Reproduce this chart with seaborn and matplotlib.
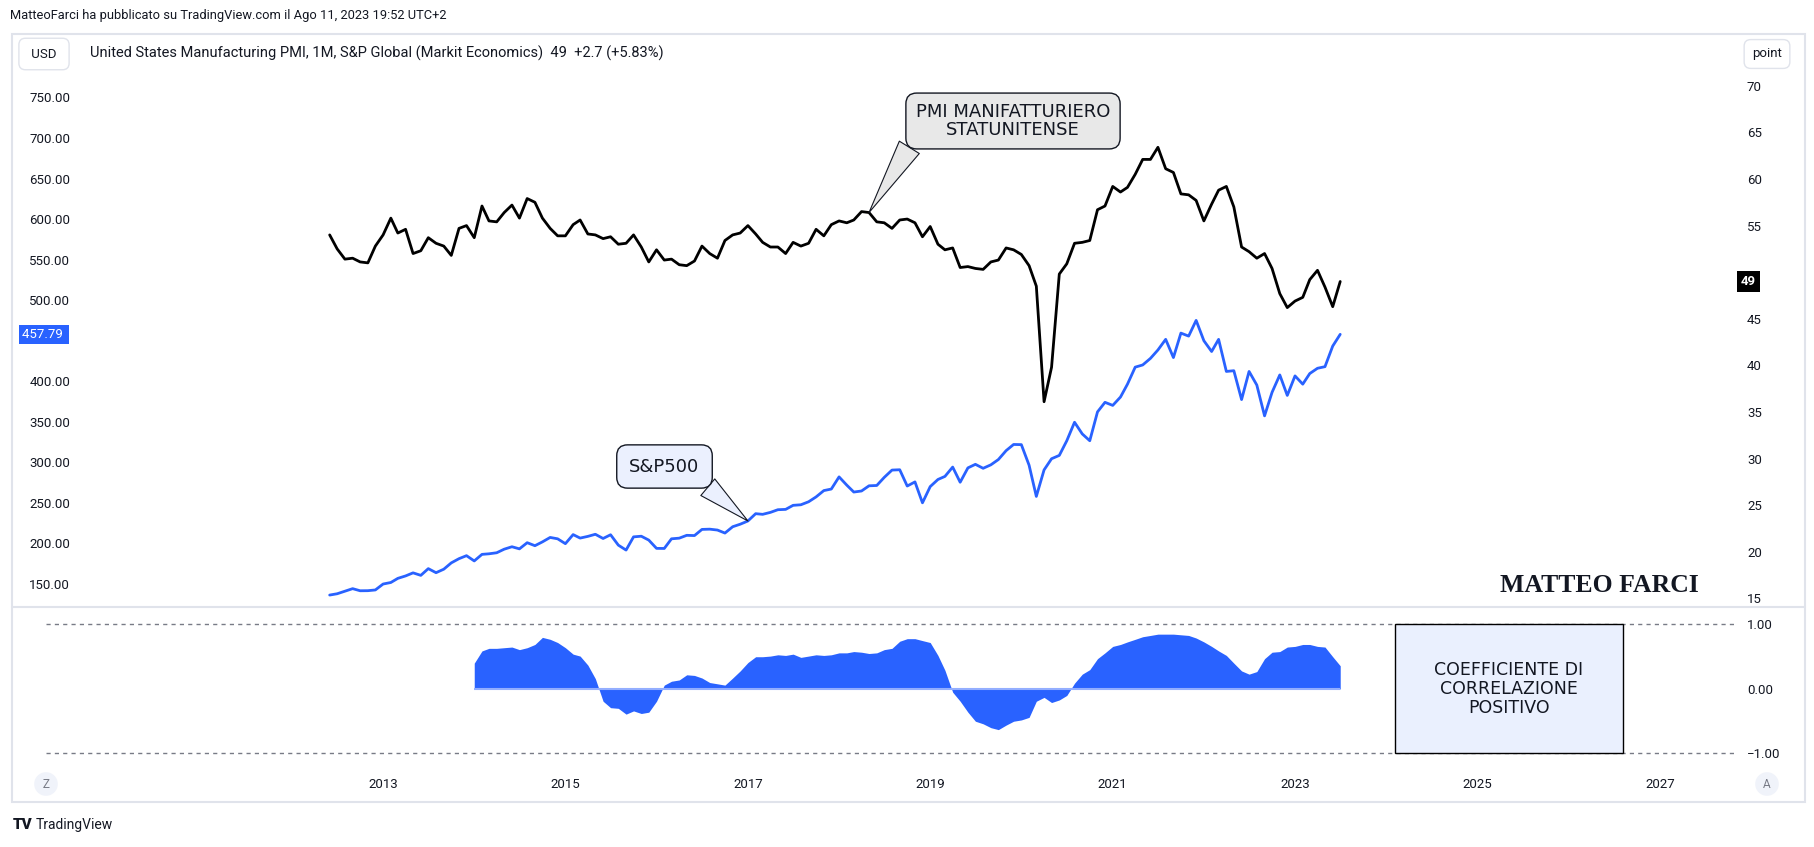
import numpy as np
import pandas as pd
import matplotlib
matplotlib.use("Agg")
import matplotlib.pyplot as plt
import matplotlib.dates as mdates
from matplotlib.patches import Rectangle
from matplotlib.lines import Line2D
from matplotlib.transforms import blended_transform_factory
import seaborn as sns

sns.set_style("white")
plt.rcParams['font.family'] = ['Roboto', 'DejaVu Sans']

# dati mensili, giugno 2012 - luglio 2023
months = pd.date_range("2012-06-01", periods=134, freq="MS")

pmi = [
    54.0, 52.5, 51.4, 51.5, 51.1, 51.0, 52.8,
    54.0, 55.8, 54.2, 54.6, 52.0, 52.3, 53.7, 53.1, 52.8, 51.8, 54.7, 55.0,
    53.7, 57.1, 55.5, 55.4, 56.4, 57.2, 55.8, 57.9, 57.5, 55.8, 54.7, 53.9,
    53.9, 55.1, 55.6, 54.1, 54.0, 53.6, 53.8, 53.0, 53.1, 54.0, 52.7, 51.1,
    52.4, 51.3, 51.4, 50.8, 50.7, 51.2, 52.8, 52.0, 51.5, 53.4, 54.0, 54.2,
    55.0, 54.1, 53.2, 52.7, 52.7, 52.0, 53.2, 52.8, 53.1, 54.6, 53.9, 55.1,
    55.5, 55.3, 55.6, 56.5, 56.4, 55.4, 55.3, 54.7, 55.6, 55.7, 55.3, 53.8,
    54.9, 53.0, 52.4, 52.6, 50.5, 50.6, 50.4, 50.3, 51.1, 51.3, 52.6, 52.4,
    51.9, 50.7, 48.5, 36.1, 39.8, 49.8, 50.9, 53.1, 53.2, 53.4, 56.7, 57.1,
    59.2, 58.6, 59.1, 60.5, 62.1, 62.1, 63.4, 61.1, 60.7, 58.4, 58.3, 57.7,
    55.5, 57.3, 58.8, 59.2, 57.0, 52.7, 52.2, 51.5, 52.0, 50.4, 47.7, 46.2,
    46.9, 47.3, 49.2, 50.2, 48.4, 46.3, 49.0,
]

spx = [
    136.1, 137.7, 140.8, 144.0, 141.4, 141.5, 142.4,
    149.7, 151.6, 156.7, 159.7, 163.5, 160.4, 168.7, 163.7, 168.0, 175.8, 181.0, 184.7,
    178.2, 186.3, 187.0, 188.3, 192.7, 195.7, 193.1, 200.7, 197.0, 201.7, 207.2, 205.5,
    199.5, 210.7, 206.4, 208.5, 211.1, 205.9, 210.5, 197.7, 191.6, 207.9, 208.7, 203.9,
    193.7, 193.6, 205.5, 206.3, 209.8, 209.5, 217.1, 217.4, 216.3, 212.6, 220.4, 223.5,
    227.5, 236.5, 235.7, 238.1, 241.4, 241.8, 246.8, 247.5, 251.2, 257.2, 265.0, 266.9,
    281.9, 271.7, 263.2, 264.5, 270.9, 271.3, 281.3, 290.3, 290.7, 270.6, 275.7, 249.9,
    269.9, 278.7, 282.5, 294.0, 275.3, 293.0, 297.4, 292.5, 296.8, 303.3, 314.3, 321.9,
    321.7, 296.3, 257.8, 290.5, 304.3, 308.4, 326.5, 349.3, 334.9, 326.5, 362.1, 373.9,
    370.1, 380.4, 396.3, 417.3, 420.0, 428.1, 438.5, 451.6, 429.1, 459.3, 455.6, 475.0,
    449.9, 436.6, 451.6, 412.0, 412.9, 377.3, 412.0, 395.2, 357.2, 386.2, 407.7, 382.4,
    406.5, 396.3, 409.4, 415.9, 417.9, 443.3, 457.79,
]

# coefficiente di correlazione, gennaio 2014 - luglio 2023
corr_months = pd.date_range("2014-01-01", periods=115, freq="MS")
corr = [
    0.40, 0.59, 0.63, 0.63, 0.64, 0.65, 0.61, 0.64, 0.69, 0.80, 0.77, 0.72,
    0.64, 0.54, 0.51, 0.37, 0.16, -0.19, -0.29, -0.30, -0.39, -0.34, -0.38, -0.36,
    -0.19, 0.06, 0.12, 0.14, 0.22, 0.21, 0.17, 0.10, 0.08, 0.06, 0.17, 0.28,
    0.41, 0.50, 0.50, 0.51, 0.53, 0.52, 0.54, 0.49, 0.51, 0.53, 0.52, 0.53,
    0.56, 0.56, 0.58, 0.57, 0.55, 0.56, 0.61, 0.63, 0.74, 0.78, 0.78, 0.75,
    0.72, 0.52, 0.29, -0.05, -0.19, -0.36, -0.50, -0.54, -0.60, -0.63, -0.56, -0.50,
    -0.48, -0.44, -0.19, -0.13, -0.21, -0.17, -0.10, 0.09, 0.23, 0.30, 0.47, 0.56,
    0.66, 0.69, 0.73, 0.77, 0.81, 0.83, 0.85, 0.85, 0.85, 0.84, 0.83, 0.79,
    0.73, 0.66, 0.59, 0.52, 0.40, 0.28, 0.23, 0.27, 0.47, 0.57, 0.58, 0.65,
    0.66, 0.69, 0.69, 0.66, 0.65, 0.50, 0.36,
]

year_ticks = [2013, 2015, 2017, 2019, 2021, 2023, 2025, 2027]
spx_ticks = np.arange(150, 751, 50)
pmi_ticks = np.arange(15, 71, 5)
corr_ticks = [-1, 0, 1]

TXT = "#131722"
GRID = "#E0E3EB"
BLUE = "#2962FF"

W, H = 1814, 847
fig = plt.figure(figsize=(W / 100, H / 100), dpi=100)


def fx(px):
    return px / W


def fy(py):
    return 1 - py / H


ax = fig.add_axes([fx(46), fy(606), fx(1735) - fx(46), fy(35) - fy(606)])
ax2 = ax.twinx()
ax3 = fig.add_axes([fx(46), fy(770), fx(1735) - fx(46), fy(607) - fy(770)], sharex=ax)

sns.lineplot(x=months, y=spx, ax=ax, color=BLUE, linewidth=2.0, legend=False)
sns.lineplot(x=months, y=pmi, ax=ax2, color="black", linewidth=2.0, legend=False)

t0 = pd.Timestamp("2013-01-01")
ax.set_xlim(t0 - pd.Timedelta(days=1350), t0 + pd.Timedelta(days=5414))
ax.set_ylim(122.6, 827.1)
ax2.set_ylim(14.18, 75.45)

# le etichette coperte dai riquadri dell'ultimo valore restano vuote
ax.set_yticks(spx_ticks)
ax.set_yticklabels(["" if abs(v - spx[-1]) < 25 else f"{v:.2f}" for v in spx_ticks])
ax.tick_params(axis="y", length=0, pad=-17.5, labelsize=9.5, labelcolor=TXT)
ax.tick_params(axis="x", length=0, labelbottom=False)
ax2.set_yticks(pmi_ticks)
ax2.set_yticklabels(["" if abs(v - pmi[-1]) < 2.5 else str(v) for v in pmi_ticks])
ax2.tick_params(axis="y", length=0, pad=8.6, labelsize=9.5, labelcolor=TXT)
ax.set_xlabel("")
ax.set_ylabel("")
ax2.set_ylabel("")

# pannello correlazione
ax3.fill_between(corr_months, corr, 0, color=BLUE, linewidth=0)
ax3.hlines(0, corr_months[0], corr_months[-1], color="#93AEFF", linewidth=1.5)
for lvl in (1, -1):
    ax3.axhline(lvl, color="#787B86", linestyle=(0, (3, 3)), linewidth=1)
ax3.set_ylim(-1.256, 1.271)
ax3.yaxis.tick_right()
ax3.set_yticks(corr_ticks)
ax3.set_yticklabels([f"{v:.2f}".replace("-", "\u2212") for v in corr_ticks])
ax3.tick_params(axis="y", length=0, pad=8.6, labelsize=9.5, labelcolor=TXT)
ax3.set_xticks(pd.to_datetime([f"{y}-01-01" for y in year_ticks]))
ax3.xaxis.set_major_formatter(mdates.DateFormatter("%Y"))
ax3.tick_params(axis="x", length=0, pad=6, labelsize=9.5, labelcolor=TXT)
ax3.set_xlim(t0 - pd.Timedelta(days=1350), t0 + pd.Timedelta(days=5414))

box_l = mdates.date2num(pd.Timestamp("2024-02-04"))
box_r = mdates.date2num(pd.Timestamp("2026-08-05"))
ax3.add_patch(Rectangle((box_l, -1), box_r - box_l, 2, facecolor="#EAF0FE",
                        edgecolor="black", linewidth=1, zorder=3))
ax3.text((box_l + box_r) / 2, 0, "COEFFICIENTE DI\nCORRELAZIONE\nPOSITIVO",
         ha="center", va="center", family=["DejaVu Sans"], fontsize=12.5,
         color=TXT, linespacing=1.05, zorder=4)

for a in (ax, ax2, ax3):
    for s in a.spines.values():
        s.set_visible(False)
    a.set_facecolor("none")

# etichette ultimo valore
ax.text(-0.0142, spx[-1], f"{spx[-1]:.2f} ", transform=blended_transform_factory(ax.transAxes, ax.transData),
        ha="left", va="center", color="white", fontsize=9.5, zorder=10, clip_on=False,
        bbox=dict(boxstyle="square,pad=0.25", fc=BLUE, ec="none"))
ax2.text(1.0036, pmi[-1], f"{pmi[-1]:g}", transform=blended_transform_factory(ax2.transAxes, ax2.transData),
         ha="left", va="center", color="white", fontsize=9.5, fontweight="bold", zorder=10, clip_on=False,
         bbox=dict(boxstyle="square,pad=0.3", fc="black", ec="none"))

# callout
ax2.annotate("PMI MANIFATTURIERO\nSTATUNITENSE", xy=(months[71], pmi[71]), xycoords="data",
             xytext=(1013, H - 121), textcoords="figure pixels", ha="center", va="center",
             family=["DejaVu Sans"], fontsize=13, color=TXT, linespacing=1.0,
             bbox=dict(boxstyle="round,pad=0.55,rounding_size=0.6", fc="#E8E8E8", ec=TXT, lw=1),
             arrowprops=dict(arrowstyle="wedge,tail_width=1.3,shrink_factor=0.5", fc="#E8E8E8",
                             ec=TXT, lw=0.8, relpos=(0.0, 0.06), shrinkA=0, shrinkB=0),
             annotation_clip=False, zorder=6)
ax.annotate("S&P500", xy=(months[55], spx[55]), xycoords="data",
            xytext=(664.5, H - 466.5), textcoords="figure pixels", ha="center", va="center",
            family=["DejaVu Sans"], fontsize=13, color=TXT,
            bbox=dict(boxstyle="round,pad=0.7,rounding_size=0.6", fc="#EBF0FE", ec=TXT, lw=1),
            arrowprops=dict(arrowstyle="wedge,tail_width=1.2,shrink_factor=0.5", fc="#EBF0FE",
                            ec=TXT, lw=0.8, relpos=(0.9, 0.06), shrinkA=0, shrinkB=0),
            annotation_clip=False, zorder=6)

fig.text(fx(1599), fy(585), "MATTEO FARCI", family=["Liberation Serif"], fontweight="bold",
         fontsize=18.5, ha="center", va="center", color=TXT)

# cornice e intestazione stile TradingView
fig.add_artist(Rectangle((fx(12), fy(802)), fx(1805) - fx(12), fy(34) - fy(802),
                         transform=fig.transFigure, fill=False, ec=GRID, lw=1.5))
fig.add_artist(Line2D([fx(12), fx(1805)], [fy(606.5), fy(606.5)], transform=fig.transFigure,
                      color=GRID, lw=1.5))

fig.text(fx(10), fy(15), "MatteoFarci ha pubblicato su TradingView.com il Ago 11, 2023 19:52 UTC+2",
         fontsize=9.3, va="center", color=TXT)
fig.text(fx(44), fy(54), " USD ", ha="center", va="center", fontsize=9.5, color=TXT,
         bbox=dict(boxstyle="round,pad=0.7,rounding_size=0.5", fc="white", ec=GRID))
chg = pmi[-1] - pmi[-2]
fig.text(fx(90), fy(53),
         f"United States Manufacturing PMI, 1M, S&P Global (Markit Economics)  {pmi[-1]:g}  "
         f"{chg:+.1f} ({chg / pmi[-2] * 100:+.2f}%)",
         fontsize=10.5, va="center", color=TXT)
fig.text(fx(1767), fy(54), "point", ha="center", va="center", fontsize=9.5, color=TXT,
         bbox=dict(boxstyle="round,pad=0.6,rounding_size=0.5", fc="white", ec=GRID))

for xpos, lab in ((46, "Z"), (1767, "A")):
    fig.text(fx(xpos), fy(784), lab, ha="center", va="center", fontsize=8.5, color="#787B86",
             bbox=dict(boxstyle="circle,pad=0.45", fc="#F0F3FA", ec="none"))

fig.text(fx(13), fy(825), "TV", fontsize=11, fontweight="heavy", va="center", color=TXT)
fig.text(fx(36), fy(825), "TradingView", fontsize=10, va="center", color=TXT)

fig.savefig("out.png", dpi=100, facecolor="white")
